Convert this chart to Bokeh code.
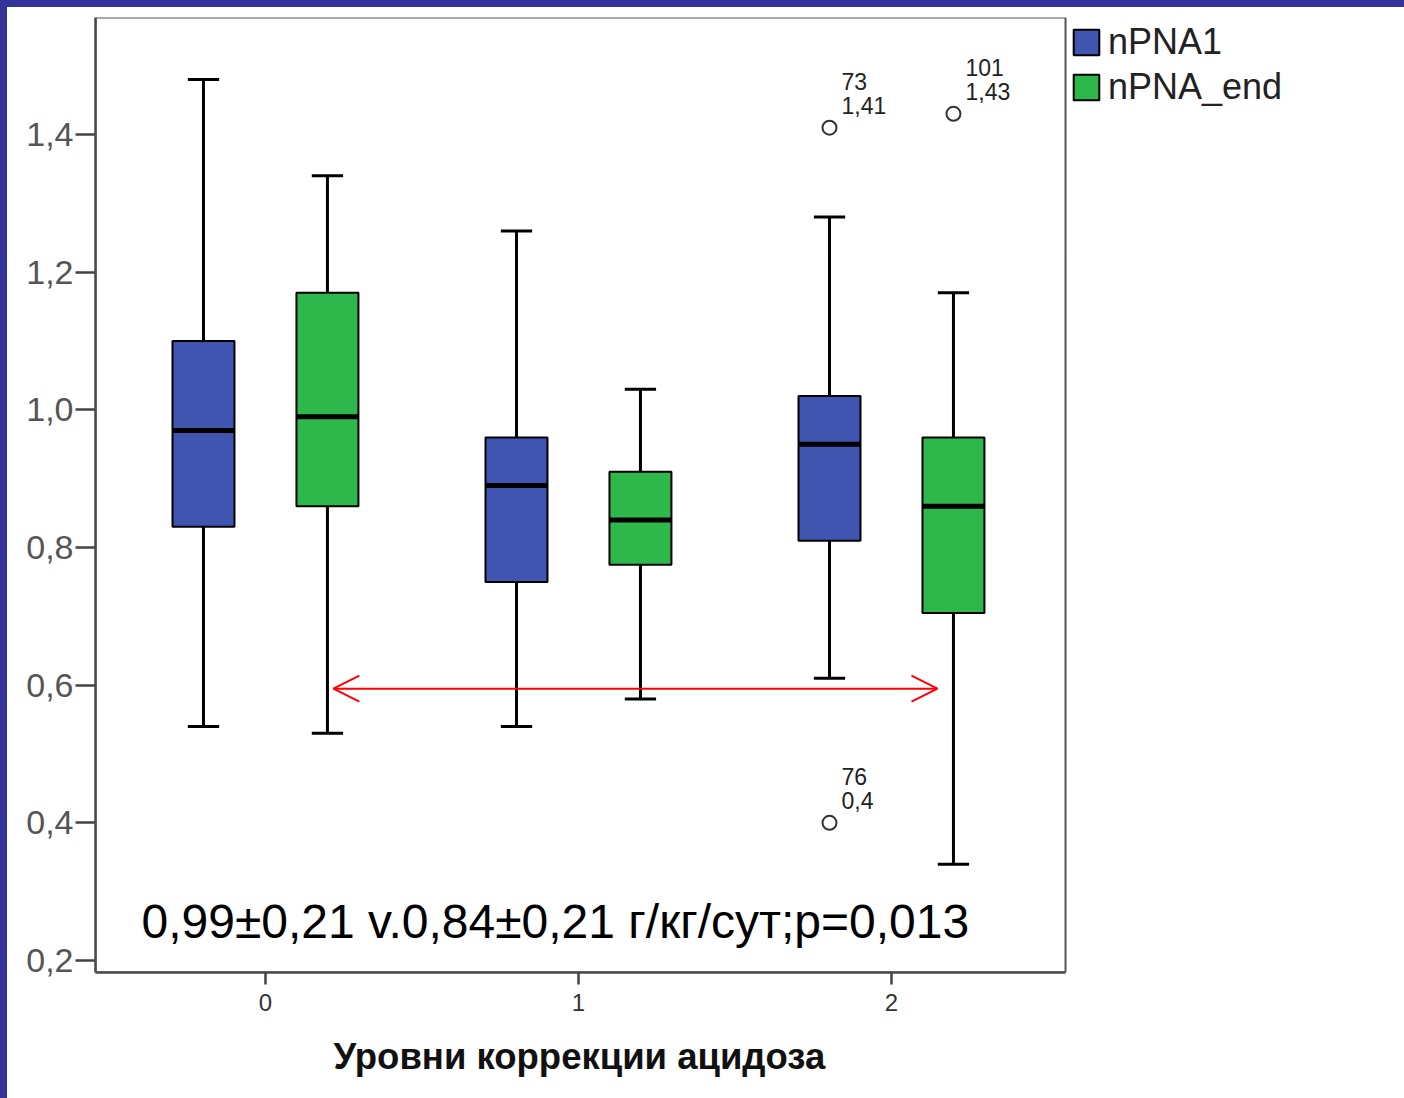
from bokeh.plotting import figure
from bokeh.models import (ColumnDataSource, FixedTicker, CustomJSTickFormatter, Legend,
                          LegendItem, Label, Arrow, OpenHead, Range1d, BoxAnnotation, Title,
                          GlobalInlineStyleSheet)
from bokeh.embed import file_html
from bokeh.resources import INLINE
from bokeh.core.properties import value

# ---------------- data ----------------
groups = [0, 1, 2]
x_tick_labels = ["0", "1", "2"]
series_names = ["nPNA1", "nPNA_end"]

npna1_low = [0.54, 0.54, 0.61]
npna1_q1 = [0.83, 0.75, 0.81]
npna1_med = [0.97, 0.89, 0.95]
npna1_q3 = [1.10, 0.96, 1.02]
npna1_high = [1.48, 1.26, 1.28]

npnaend_low = [0.53, 0.58, 0.34]
npnaend_q1 = [0.86, 0.775, 0.705]
npnaend_med = [0.99, 0.84, 0.86]
npnaend_q3 = [1.17, 0.91, 0.96]
npnaend_high = [1.34, 1.03, 1.17]

outlier_group = [2, 2, 2]
outlier_series = ["nPNA1", "nPNA1", "nPNA_end"]
outlier_value = [1.41, 0.40, 1.43]
outlier_id = ["73", "76", "101"]

y_ticks = [0.2, 0.4, 0.6, 0.8, 1.0, 1.2, 1.4]

annotation_text = "0,99±0,21 v.0,84±0,21 г/кг/сут;р=0,013"
x_label = "Уровни коррекции ацидоза"

# ---------------- style ----------------
FONT = "Liberation Sans"
BLUE = "#3F55B0"
GREEN = "#2EB84B"
OFFSET = 0.198
BOX_W = 0.198
CAP_W = 0.10
X0, X1 = -0.543, 2.556      # extent of the boxed plot area
Y0, Y1 = 0.1826, 1.57

p = figure(width=1397, height=1091, title=None,
           x_range=Range1d(X0, 3.639), y_range=Range1d(Y0, Y1),
           output_backend="svg", toolbar_location=None,
           min_border_left=88, min_border_right=0, min_border_top=10, min_border_bottom=126)
p.styles = {"position": "absolute", "left": "7px", "top": "7px"}
p.xgrid.visible = False
p.ygrid.visible = False
p.background_fill_color = "white"
p.border_fill_color = "white"
p.outline_line_color = None

p.stylesheets = [GlobalInlineStyleSheet(css=(
    "html, body { background: linear-gradient(#333399,#333399) top left / 100% 7px no-repeat, "
    "linear-gradient(#333399,#333399) top left / 7px 100% no-repeat, #ffffff; }"))]

# plot-area box
p.add_layout(BoxAnnotation(left=X0, right=X1, bottom=Y0, top=Y1, fill_alpha=0,
                           line_color="#555555", line_width=2, line_alpha=1))

# axes
p.yaxis.ticker = FixedTicker(ticks=y_ticks)
p.yaxis.formatter = CustomJSTickFormatter(code="return tick.toFixed(1).replace('.', ',');")
p.yaxis.major_tick_out = 20
p.yaxis.major_tick_in = 0
p.yaxis.minor_tick_out = 0
p.yaxis.minor_tick_in = 0
p.yaxis.axis_line_color = "#444444"
p.yaxis.axis_line_width = 2.5
p.yaxis.major_tick_line_color = "#444444"
p.yaxis.major_tick_line_width = 2.5
p.yaxis.major_label_text_font = FONT
p.yaxis.major_label_text_font_size = "34px"
p.yaxis.major_label_text_color = "#555555"
p.yaxis.major_label_standoff = 2

p.xaxis.bounds = (X0, X1)
p.xaxis.ticker = FixedTicker(ticks=groups)
p.xaxis.major_label_overrides = {g: t for g, t in zip(groups, x_tick_labels)}
p.xaxis.major_tick_out = 12
p.xaxis.major_tick_in = 0
p.xaxis.minor_tick_out = 0
p.xaxis.minor_tick_in = 0
p.xaxis.axis_line_color = "#444444"
p.xaxis.axis_line_width = 2.5
p.xaxis.major_tick_line_color = "#444444"
p.xaxis.major_tick_line_width = 2.5
p.xaxis.major_label_text_font = FONT
p.xaxis.major_label_text_font_size = "24px"
p.xaxis.major_label_text_color = "#333333"
p.xaxis.major_label_standoff = 9

# x axis title, placed under the boxed area
p.add_layout(Title(text=x_label, align="left", offset=238, text_font=FONT,
                   text_font_size="36.5px", text_font_style="bold", text_color="#111111",
                   standoff=40), "below")

# boxes
series_data = [
    ("nPNA1", -OFFSET, BLUE, npna1_low, npna1_q1, npna1_med, npna1_q3, npna1_high),
    ("nPNA_end", OFFSET, GREEN, npnaend_low, npnaend_q1, npnaend_med, npnaend_q3, npnaend_high),
]
box_renderers = {}
for name, off, color, low, q1, med, q3, high in series_data:
    xs = [g + off for g in groups]
    src = ColumnDataSource(dict(
        x=xs, low=low, q1=q1, med=med, q3=q3, high=high,
        box_l=[x - BOX_W / 2 for x in xs], box_r=[x + BOX_W / 2 for x in xs],
        cap_l=[x - CAP_W / 2 for x in xs], cap_r=[x + CAP_W / 2 for x in xs],
    ))
    p.segment(x0="x", x1="x", y0="q3", y1="high", line_color="black", line_width=3, source=src)
    p.segment(x0="x", x1="x", y0="low", y1="q1", line_color="black", line_width=3, source=src)
    p.segment(x0="cap_l", x1="cap_r", y0="high", y1="high", line_color="black", line_width=3, source=src)
    p.segment(x0="cap_l", x1="cap_r", y0="low", y1="low", line_color="black", line_width=3, source=src)
    r = p.vbar(x="x", width=BOX_W, bottom="q1", top="q3", fill_color=color,
               line_color="black", line_width=2, source=src)
    p.segment(x0="box_l", x1="box_r", y0="med", y1="med", line_color="black", line_width=5, source=src)
    box_renderers[name] = r

# outliers
off_map = {"nPNA1": -OFFSET, "nPNA_end": OFFSET}
osrc = ColumnDataSource(dict(
    x=[g + off_map[s] for g, s in zip(outlier_group, outlier_series)],
    y=outlier_value,
    idt=outlier_id,
    vt=[f"{v:g}".replace(".", ",") for v in outlier_value],
))
p.scatter(x="x", y="y", marker="circle", size=14, fill_color="white",
          line_color="#333333", line_width=2, source=osrc)
p.text(x="x", y="y", text="vt", x_offset=12, y_offset=-22, text_font=value(FONT),
       text_font_size="23px", text_color="#222222", text_baseline="middle", source=osrc)
p.text(x="x", y="y", text="idt", x_offset=12, y_offset=-46, text_font=value(FONT),
       text_font_size="23px", text_color="#222222", text_baseline="middle", source=osrc)

# arrow
head_kw = dict(size=26, line_color="red", line_width=2)
p.add_layout(Arrow(x_start=0.217, y_start=0.595, x_end=2.147, y_end=0.595,
                   start=OpenHead(**head_kw), end=OpenHead(**head_kw),
                   line_color="red", line_width=2))

# annotation
p.add_layout(Label(x=-0.396, y=0.256, text=annotation_text, text_font=FONT,
                   text_font_size="48px", text_color="black", text_baseline="middle"))

# legend, placed just right of the boxed area
legend = Legend(items=[LegendItem(label=n, renderers=[box_renderers[n]]) for n in series_names],
                location=(975, 864), margin=0, padding=0, border_line_color=None,
                background_fill_alpha=0, glyph_width=32, glyph_height=32, label_height=32,
                spacing=3, label_standoff=6, label_text_font=FONT,
                label_text_font_size="36px", label_text_color="#222222")
p.add_layout(legend, "center")

open("out.html", "w").write(file_html(p, INLINE))
